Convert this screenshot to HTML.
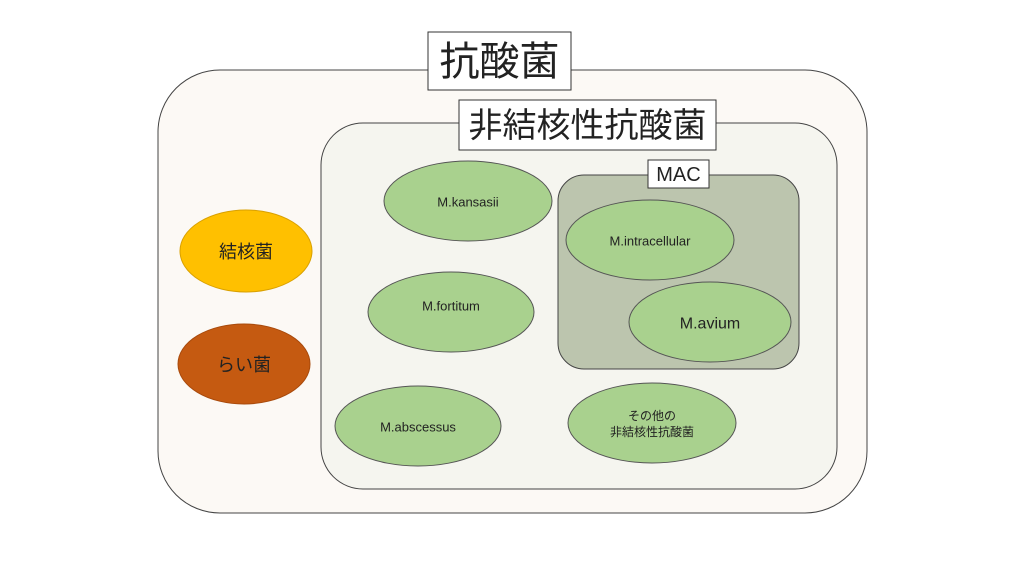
<!DOCTYPE html>
<html><head><meta charset="utf-8"><style>
html,body{margin:0;padding:0;background:#fff;}
svg{display:block}
text{font-family:"Liberation Sans","Noto Sans CJK JP",sans-serif;fill:#222;text-anchor:middle;dominant-baseline:central}
</style></head><body>
<svg width="1024" height="576" viewBox="0 0 1024 576" xmlns="http://www.w3.org/2000/svg">
<rect width="1024" height="576" fill="#fff"/>
<rect x="158" y="70" width="709" height="443" rx="62" fill="#fcf9f5" stroke="#444" stroke-width="1"/>
<rect x="428" y="32" width="143" height="58" fill="#fff" stroke="#333" stroke-width="1"/>
<text x="499.5" y="62" font-size="40">抗酸菌</text>
<rect x="321" y="123" width="516" height="366" rx="42" fill="#f5f5ef" stroke="#444" stroke-width="1"/>
<rect x="459" y="100" width="257" height="50" fill="#fff" stroke="#333" stroke-width="1"/>
<text x="587.5" y="126" font-size="34">非結核性抗酸菌</text>
<rect x="558" y="175" width="241" height="194" rx="26" fill="#bcc5ae" stroke="#444" stroke-width="1"/>
<rect x="648" y="160" width="61" height="28" fill="#fff" stroke="#333" stroke-width="1"/>
<text x="678.5" y="175" font-size="20">MAC</text>
<g fill="#a9d18e" stroke="#555" stroke-width="1">
<ellipse cx="468" cy="201" rx="84" ry="40"/>
<ellipse cx="650" cy="240" rx="84" ry="40"/>
<ellipse cx="710" cy="322" rx="81" ry="40"/>
<ellipse cx="451" cy="312" rx="83" ry="40"/>
<ellipse cx="418" cy="426" rx="83" ry="40"/>
<ellipse cx="652" cy="423" rx="84" ry="40"/>
</g>
<ellipse cx="246" cy="251" rx="66" ry="41" fill="#ffc000" stroke="#d9a000" stroke-width="1"/>
<ellipse cx="244" cy="364" rx="66" ry="40" fill="#c55a11" stroke="#a84a0c" stroke-width="1"/>
<text x="468" y="202" font-size="13">M.kansasii</text>
<text x="650" y="241" font-size="13">M.intracellular</text>
<text x="710" y="324" font-size="16">M.avium</text>
<text x="451" y="306" font-size="13">M.fortitum</text>
<text x="418" y="427" font-size="13">M.abscessus</text>
<text x="652" y="416" font-size="12">その他の</text>
<text x="652" y="432" font-size="12">非結核性抗酸菌</text>
<text x="246" y="252" font-size="18">結核菌</text>
<text x="244" y="365" font-size="18">らい菌</text>
</svg>
</body></html>
